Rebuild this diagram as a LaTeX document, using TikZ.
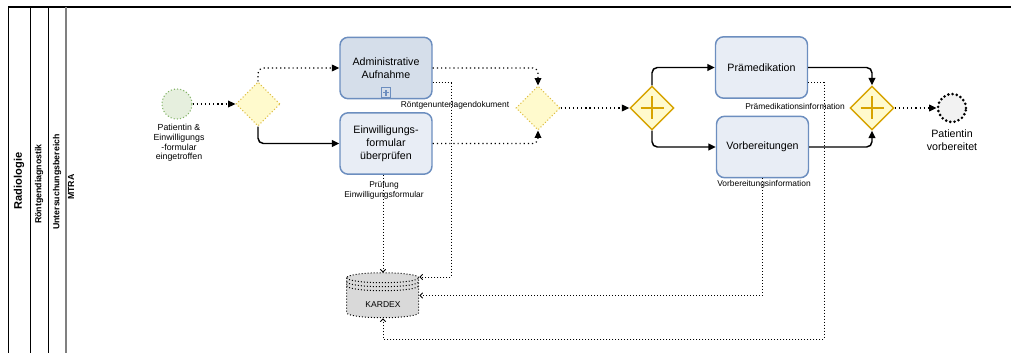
\documentclass[tikz,border=0pt]{standalone}
\usepackage{fontspec}
\setmainfont{Liberation Sans}
\usetikzlibrary{arrows.meta,shapes.geometric}

\definecolor{taskFill}{RGB}{232,237,245}
\definecolor{subFill}{RGB}{213,222,234}
\definecolor{taskLine}{RGB}{108,142,191}
\definecolor{gwFill}{RGB}{255,250,205}
\definecolor{gwLine}{RGB}{222,190,70}
\definecolor{pgwLine}{RGB}{215,163,0}
\definecolor{startFill}{RGB}{230,239,222}
\definecolor{startLine}{RGB}{130,179,102}
\definecolor{endFill}{RGB}{242,242,242}
\definecolor{dbFill}{RGB}{217,217,217}
\definecolor{laneGray}{RGB}{128,128,128}

\def\radTaskWidth{69pt}
\def\radTaskHeight{46pt}
\def\radGwSize{33pt}
\def\radDbWidth{54pt}
\def\radDbHeight{33.75pt}
\def\radDbRx{36}
\def\radDbRy{5}

\tikzset{
  task/.style = {draw = taskLine, fill = taskFill, line width = 1.1pt,
    rounded corners = 6pt, minimum width = \radTaskWidth,
    minimum height = \radTaskHeight, inner sep = 1pt, align = center,
    font = \fontsize{8}{9.8}\selectfont},
  subtask/.style = {task, fill = subFill},
  gwx/.style = {diamond, draw = gwLine, fill = gwFill, line width = 0.8pt,
    dash pattern = on 0.8pt off 1.6pt, minimum width = \radGwSize,
    minimum height = \radGwSize, inner sep = 0pt},
  gwp/.style = {diamond, draw = pgwLine, fill = gwFill, line width = 1.1pt,
    minimum width = \radGwSize, minimum height = \radGwSize, inner sep = 0pt},
  startev/.style = {circle, draw = startLine, fill = startFill,
    line width = 0.8pt, dash pattern = on 0.8pt off 1.6pt,
    minimum size = 22.5pt, inner sep = 0pt},
  endev/.style = {circle, draw = black, fill = endFill, line width = 2.2pt,
    dash pattern = on 0pt off 3.2pt, line cap = round,
    minimum size = 21pt, inner sep = 0pt},
  dbnode/.style = {minimum width = \radDbWidth, minimum height = \radDbHeight,
    inner sep = 0pt},
  dbline/.style = {draw = black, line width = 0.75pt,
    dash pattern = on 0.75pt off 1.5pt},
  seqflow/.style = {line width = 1.1pt, rounded corners = 4pt,
    -{Triangle[length = 5.5pt, width = 5pt]}},
  seqdot/.style = {line width = 0.9pt, rounded corners = 4pt,
    dash pattern = on 0.9pt off 2.2pt,
    -{Triangle[length = 5.5pt, width = 5pt]}},
  assoc/.style = {line width = 0.75pt, dash pattern = on 0.75pt off 1.5pt,
    -{Straight Barb[length = 2pt, width = 4pt]}},
  asslbl/.style = {inner sep = 0pt, align = center,
    font = \fontsize{6.3}{7.5}\selectfont},
  lanelbl/.style = {rotate = 90, inner sep = 0pt,
    font = \bfseries\fontsize{6.6}{8}\selectfont},
}

\begin{document}
\begin{tikzpicture}[x = 0.75pt, y = -0.75pt]
  \useasboundingbox (0,0) rectangle (1011,353);
  %% pool and lanes
  \draw [line width = 1.5pt] (8,7) -- (1011,7);
  \draw [semithick]
  (8,7) -- (8,353)
  (30,7) -- (30,353)
  (48,7) -- (48,353)
  ;
  \draw [laneGray, line width = 1.5pt] (66,7) -- (66,353);
  \node [lanelbl, font = \bfseries\fontsize{8.3}{9}\selectfont] (laneRad) at (19,181) {Radiologie};
  \node [lanelbl] (laneRoe) at (39,184) {Röntgendiagnostik};
  \node [lanelbl] (laneUnt) at (57,182) {Untersuchungsbereich};
  \node [lanelbl] (laneMtra) at (71,187) {MTRA};

  %% events, tasks, gateways
  \node [startev] (start) at (177,104) {};
  \node [asslbl, font = \fontsize{6.6}{7.3}\selectfont] (startLbl) at (179,143)
  {Patientin \&\\Einwilligungs\\-formular\\eingetroffen};
  \node [gwx] (gwSplit) at (258,104) {};
  \node [subtask] (admin) at (386,68) {Administrative\\Aufnahme};
  \node [task] (consent) at (386,143.5) {Einwilligungs-\\formular\\überprüfen};
  \node [gwx] (gwJoin) at (538,108) {};
  \node [gwp] (parSplit) at (652,108) {};
  \node [task] (premed) at (761.5,67.5) {Prämedikation};
  \node [task] (prep) at (762.5,147) {Vorbereitungen};
  \node [gwp] (parJoin) at (872,108) {};
  \node [endev] (finish) at (952,108) {};
  \node [asslbl, font = \fontsize{8}{10}\selectfont] (finishLbl) at (952,140)
  {Patientin\\vorbereitet};
  \node [dbnode] (kardex) at (383,295.5) {};

  %% collapsed subprocess marker
  \draw [taskLine, line width = 0.9pt]
  (admin.south) ++(-4.5,-2) rectangle ++(9,-9.5)
  (admin.south) ++(-3,-6.75) -- ++(6,0)
  (admin.south) ++(0,-3.75) -- ++(0,-6)
  ;
  %% parallel markers
  \draw [pgwLine, line width = 1.1pt]
  (parSplit.center) ++(-11.5,0) -- ++(23,0)
  (parSplit.center) ++(0,-11.5) -- ++(0,23)
  (parJoin.center) ++(-11.5,0) -- ++(23,0)
  (parJoin.center) ++(0,-11.5) -- ++(0,23)
  ;

  %% kardex cylinder
  \filldraw [dbline, fill = dbFill]
  (kardex.north west) ++(0,\radDbRy) -- ++(0,35)
  arc [start angle = 180, end angle = 0, x radius = \radDbRx, y radius = \radDbRy]
  -- ++(0,-35)
  arc [start angle = 0, end angle = -180, x radius = \radDbRx, y radius = \radDbRy]
  -- cycle
  ;
  \draw [dbline]
  (kardex.north west) ++(0,\radDbRy)
  arc [start angle = 180, end angle = 0, x radius = \radDbRx, y radius = \radDbRy]
  (kardex.north west) ++(0,9)
  arc [start angle = 180, end angle = 0, x radius = \radDbRx, y radius = \radDbRy]
  (kardex.north west) ++(0,13)
  arc [start angle = 180, end angle = 0, x radius = \radDbRx, y radius = \radDbRy]
  ;
  \node [asslbl, font = \fontsize{6.4}{7.5}\selectfont] (kardexLbl) at (383,305) {KARDEX};

  %% sequence flows
  \draw [seqdot] (start) -- (gwSplit);
  \draw [seqdot] (gwSplit.north) |- (admin.west);
  \draw [seqflow] (gwSplit.south) |- (consent.west);
  \draw [seqdot] (admin.east) -| (gwJoin.north);
  \draw [seqdot] (consent.east) -| (gwJoin.south);
  \draw [seqdot] (gwJoin) -- (parSplit);
  \draw [seqflow] (parSplit.north) |- (premed.west);
  \draw [seqflow] (parSplit.south) |- (prep.west);
  \draw [seqflow] (premed.east) -| (parJoin.north);
  \draw [seqflow] (prep.east) -| (parJoin.south);
  \draw [seqdot] (parJoin) -- (finish);

  %% data associations
  \coordinate (admBend) at (451,277);
  \coordinate (premBend) at (824,339);
  \draw [assoc] ([yshift = -11.25pt]admin.east) -| (admBend) -- (admBend -| kardex.east);
  \draw [assoc] (consent.south -| kardex.north) -- (kardex.north);
  \draw [assoc] ([yshift = -11.25pt]premed.east) -| (premBend) -| (kardex.south);
  \draw [assoc] (prep.south) |- (kardex.east);
  \node [asslbl] (lblRoe) at (455,105) {Röntgenunterlagendokument};
  \node [asslbl] (lblPruef) at (384,190) {Prüfung\\Einwilligungsformular};
  \node [asslbl] (lblPraem) at (795,106) {Prämedikationsinformation};
  \node [asslbl] (lblVorb) at (764,184) {Vorbereitungsinformation};
\end{tikzpicture}
\end{document}
